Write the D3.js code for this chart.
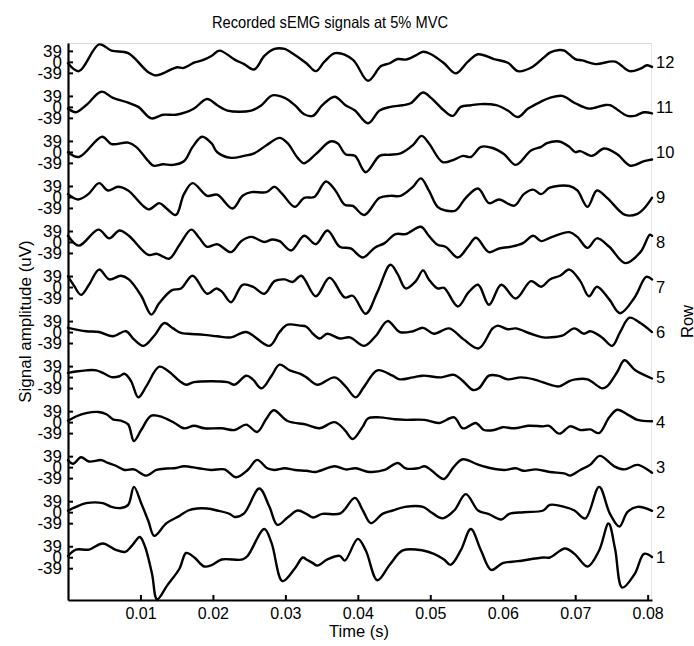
<!DOCTYPE html>
<html>
<head>
<meta charset="utf-8">
<script src="https://cdn.jsdelivr.net/npm/d3@7/dist/d3.min.js"></script>
<style>
  html, body { margin: 0; padding: 0; background: #ffffff; }
  svg { display: block; font-family: "Liberation Sans", Arial, Helvetica, sans-serif; }
</style>
</head>
<body>
<svg id="chart" width="694" height="646"></svg>
<script>
// ---------------- data ----------------
const chartTitle = "Recorded sEMG signals at 5% MVC";
const xLabel = "Time (s)";
const yLabel = "Signal amplitude (uV)";
const rightLabel = "Row";
const rowLabels = ["1","2","3","4","5","6","7","8","9","10","11","12"];
const yTickValues = [-39, 0, 39];          // µV, per row
const xTickValues = [0.01, 0.02, 0.03, 0.04, 0.05, 0.06, 0.07, 0.08]; // s
const rowOffset = 160;                     // µV between stacked rows

// each row: [time (ms), amplitude (µV)]
const row1 = [[0,4],[1.1,27],[2.9,27],[4.8,49],[6.6,26],[7.9,19],[8.8,40],[9.9,72],[10.6,40],[11.6,-60],[12.3,-150],[13.7,-100],[15.4,-40],[16.3,15],[17.4,0],[18.8,-33],[19.9,-27],[21.2,-8],[24.1,-8],[24.8,5],[27.1,100],[28.1,50],[29.6,-85],[31.3,-40],[32.4,-1],[32.9,-8],[33.8,-21],[34.4,-30],[35.8,-8],[37.5,5],[38.2,-12],[40.0,65],[41.1,24],[42.7,-82],[44.4,-27],[46.2,24],[49.0,24],[50.5,12],[51.9,-8],[52.8,-27],[54.2,24],[55.6,100],[57.0,24],[58.4,-45],[60.0,-21],[62.1,-14],[65.6,-1],[66.5,-1],[68.6,31],[69.9,12],[71.7,-33],[73.3,24],[74.6,120],[75.5,30],[76.5,-108],[78.2,-60],[79.5,12],[80.6,1]];
const row2 = [[0,5],[1.1,19],[2.5,32],[4.8,32],[6.0,19],[7.3,15],[8.3,26],[9.1,90],[10.1,32],[11.1,-32],[11.9,-84],[13.6,-39],[15.4,-13],[16.6,6],[17.8,13],[19.2,13],[20.6,6],[22.3,-6],[23.0,-17],[24.3,-4],[26.4,84],[27.8,19],[28.9,-45],[30.3,-19],[31.7,6],[32.9,-6],[33.8,-19],[35.1,-6],[37.6,-4],[39.6,51],[40.7,6],[41.8,-39],[43.4,-6],[44.8,6],[46.5,19],[49.0,19],[50.1,0],[51.7,-22],[53.3,6],[54.9,64],[56.6,6],[58.0,-6],[59.8,-26],[60.9,-6],[62.9,0],[65.6,6],[66.5,26],[68.5,19],[69.9,6],[71.4,-22],[73.3,90],[74.8,-6],[76.1,-51],[77.2,0],[78.6,19],[80.6,5]];
const row3 = [[0,25],[0.7,12],[1.8,35],[2.9,20],[4.6,25],[5.5,15],[6.6,5],[7.8,-10],[9.1,-8],[10.8,-30],[12.2,-10],[13.6,-5],[14.9,-3],[16.0,3],[18.0,-4],[19.8,-10],[21.6,-8],[23.2,-36],[24.8,-10],[26.1,26],[27.5,-4],[28.5,-10],[29.9,-4],[31.3,-10],[32.9,-13],[34.2,-17],[36.8,3],[38.3,-8],[39.7,-4],[41.6,-17],[43.7,-10],[45.5,15],[46.6,-4],[48.3,-4],[49.2,3],[50.1,-10],[51.0,-30],[51.9,-42],[53.3,3],[54.5,28],[56.6,9],[58.4,-4],[60.2,-10],[61.8,-4],[62.9,-13],[64.6,-8],[66.5,-17],[68.6,-23],[69.3,-30],[70.7,-10],[72.1,9],[73.4,40],[75.4,3],[76.8,-8],[78.6,8],[80.6,-20]];
const row4 = [[0,5],[1.1,20],[2.5,32],[4.2,36],[5.3,28],[6.2,10],[7.3,5],[8.3,-8],[9.1,-67],[10.1,-28],[11.5,23],[13.1,17],[14.7,-3],[16.0,-22],[17.4,-13],[18.8,-22],[21.2,-22],[23.0,-28],[24.6,-9],[26.1,-35],[27.4,13],[28.4,42],[30.3,4],[32.9,-9],[34.7,-22],[36.8,0],[38.2,-28],[39.3,-60],[40.7,-15],[41.4,13],[43.0,17],[45.1,10],[46.6,8],[49.2,8],[51.2,-3],[53.3,17],[54.5,-22],[56.3,-3],[57.4,-28],[58.8,-28],[60.0,-18],[61.6,-22],[63.5,-13],[65.6,-15],[66.4,-13],[67.8,-41],[69.3,-15],[70.7,-28],[72.1,-26],[73.3,-39],[74.7,17],[75.8,44],[77.5,23],[78.6,8],[80.6,3]];
const row5 = [[0,15],[1.1,20],[2.5,24],[3.9,24],[4.8,15],[6.0,0],[7.1,3],[7.8,12],[8.7,-14],[9.7,-72],[10.8,-33],[12.6,37],[14.0,18],[15.4,-14],[16.3,-27],[17.4,-18],[22.0,-18],[23.0,-27],[24.6,5],[25.5,-8],[26.7,-40],[28.1,5],[29.2,44],[30.6,24],[32.0,12],[32.9,-1],[34.4,-27],[36.8,-1],[38.3,-33],[39.7,-72],[40.9,-33],[42.7,24],[44.8,5],[45.8,-8],[47.6,-1],[49.0,5],[51.5,-1],[53.3,8],[54.5,-14],[55.9,-46],[56.7,-40],[58.1,5],[59.3,5],[60.7,-8],[62.5,-1],[64.3,-8],[66.5,-27],[67.8,-33],[69.2,-14],[70.0,-8],[71.7,-8],[73.7,-40],[74.4,-33],[75.8,18],[76.8,60],[78.3,24],[80.6,-5]];
const row6 = [[0,15],[2.5,3],[4.3,0],[6.2,-15],[8.0,3],[9.1,-26],[10.4,-49],[11.9,-13],[13.3,32],[14.5,13],[15.6,-3],[16.6,-6],[18.8,-10],[20.6,-15],[22.5,-19],[24.6,0],[27.8,-49],[29.2,0],[30.3,26],[32.0,23],[32.9,19],[33.8,-6],[34.7,-23],[35.8,-6],[37.5,-23],[38.9,-19],[40.9,-49],[42.5,-13],[44.1,39],[45.8,0],[47.6,3],[49.0,15],[50.5,-6],[52.6,13],[54.6,-26],[56.7,-58],[58.6,13],[59.3,23],[60.7,10],[61.8,13],[63.9,-6],[65.6,-19],[66.5,-19],[68.2,-13],[69.9,13],[71.2,-6],[72.1,3],[73.7,-19],[75.1,-49],[76.2,0],[77.5,51],[79.0,32],[80.6,0]];
const row7 = [[0,38],[0.8,6],[1.8,-28],[2.9,8],[4.3,62],[5.7,27],[7.3,40],[8.4,27],[10.1,-31],[11.5,-98],[12.6,-57],[14.3,-12],[15.6,-5],[17.2,40],[19.2,-24],[20.5,-5],[21.3,-18],[22.5,-54],[24.1,8],[25.5,1],[27.1,-24],[28.5,21],[29.9,27],[31.0,18],[32.2,40],[34.2,-33],[36.1,33],[38.2,-37],[39.3,-31],[41.1,-95],[42.7,-18],[44.5,79],[45.5,46],[46.6,-5],[48.0,21],[49.0,59],[49.8,27],[51.0,-5],[51.9,-3],[53.8,-69],[55.3,-18],[56.6,8],[58.1,-63],[59.8,8],[61.8,-41],[63.9,21],[65.3,1],[66.5,27],[67.9,40],[69.2,62],[70.7,21],[71.9,-33],[73.0,1],[74.7,-44],[76.2,-93],[78.2,-37],[79.8,36],[80.6,27]];
const row8 = [[0,22],[1.5,-13],[4.2,44],[5.7,13],[7.1,41],[8.4,22],[11.1,-46],[12.2,-42],[12.9,-49],[14.0,-59],[15.4,-10],[17.0,44],[18.1,15],[19.2,-17],[20.6,-8],[22.5,-36],[23.9,3],[25.3,18],[27.1,0],[28.2,9],[29.2,3],[30.8,-30],[32.6,22],[34.2,-8],[35.8,41],[37.5,-17],[39.0,-23],[40.7,-55],[42.3,-21],[43.7,-4],[45.2,28],[46.6,28],[48.7,54],[49.8,22],[51.0,-10],[52.1,-17],[53.8,-55],[55.2,-17],[56.3,15],[58.1,-36],[59.5,-23],[61.1,-17],[62.8,-4],[64.2,22],[65.3,3],[66.5,15],[69.2,35],[70.3,18],[71.7,-21],[73.0,13],[74.7,-17],[76.9,-75],[79.0,-36],[80.3,26],[80.6,22]];
const row9 = [[0,10],[1.4,-9],[2.8,10],[4.3,49],[5.5,23],[6.9,36],[8.3,23],[11.1,-44],[12.6,-22],[13.6,-41],[14.9,-64],[16.0,10],[17.2,49],[19.2,4],[20.6,8],[22.7,-41],[24.1,4],[25.3,17],[27.4,17],[28.5,36],[29.6,10],[31.3,-35],[32.6,-3],[34.0,0],[35.6,55],[36.9,23],[38.2,-28],[39.3,-32],[40.9,-64],[43.0,-3],[44.5,4],[45.9,4],[47.6,36],[48.7,66],[49.8,23],[51.0,-35],[52.1,-48],[53.5,-48],[54.9,-3],[56.6,30],[58.1,-22],[59.5,-9],[61.6,-31],[62.9,10],[64.2,26],[65.3,10],[66.5,33],[69.2,39],[70.3,23],[71.7,-35],[73.0,23],[74.4,-3],[76.9,-64],[78.6,-60],[79.5,-41],[80.6,-3]];
const row10 = [[0,-1],[1.5,-18],[4.7,54],[6.0,28],[8.3,33],[9.4,18],[11.1,-33],[11.8,-49],[13.1,-44],[14.5,-46],[16.0,-33],[17.2,18],[18.5,54],[19.8,31],[20.6,-1],[22.5,-21],[24.3,-14],[25.7,-5],[27.4,24],[29.2,50],[30.3,31],[31.7,-21],[32.6,-40],[34.2,-8],[36.2,37],[37.2,31],[38.3,-8],[39.6,-14],[41.1,-72],[43.0,-14],[44.4,-10],[45.9,-5],[47.6,24],[48.8,57],[49.8,31],[51.7,-36],[53.3,-27],[54.5,-14],[55.6,-18],[57.0,18],[58.6,14],[60.2,-8],[61.8,-46],[63.9,5],[65.3,18],[66.1,31],[67.8,37],[69.2,18],[70.0,-1],[70.7,3],[72.3,-14],[74.0,12],[75.8,-8],[77.6,-49],[79.5,-33],[80.6,-27]];
const row11 = [[0,-6],[1.1,-19],[2.5,6],[4.6,54],[6.2,32],[8.3,15],[9.7,0],[11.5,-41],[13.1,-28],[14.9,-28],[16.3,-19],[17.4,-6],[19.2,28],[20.6,6],[22.0,-13],[25.3,-13],[26.7,6],[28.2,41],[29.9,32],[31.3,6],[32.6,-26],[33.8,-32],[35.1,6],[36.8,36],[38.3,6],[39.6,-13],[41.4,-58],[43.0,-13],[44.5,0],[46.2,6],[47.3,13],[49.0,51],[50.1,32],[51.9,-13],[53.1,-32],[54.2,0],[55.6,6],[57.0,10],[59.1,6],[60.7,-13],[62.1,-36],[63.5,-6],[65.3,19],[66.5,32],[68.2,39],[70.0,13],[71.9,-6],[74.0,6],[74.8,6],[77.2,-32],[78.2,-32],[79.5,-19],[80.6,-23]];
const row12 = [[0,-5],[1.5,-33],[4.3,62],[6.0,40],[8.3,31],[11.1,-37],[12.2,-48],[14.5,-24],[15.1,-19],[15.9,-22],[16.8,-11],[17.4,-3],[18.5,5],[19.8,21],[20.9,40],[23.0,8],[24.3,-8],[25.7,-27],[27.1,21],[28.5,46],[29.9,46],[30.8,33],[32.9,-5],[34.2,-33],[35.4,1],[36.9,31],[39.3,8],[41.4,-67],[43.2,-15],[44.4,-5],[45.5,10],[46.6,8],[48.0,23],[49.0,36],[50.1,27],[51.9,-5],[53.5,-41],[55.2,1],[56.6,27],[58.8,10],[60.7,-3],[62.1,-33],[63.9,-21],[65.6,14],[66.5,33],[67.8,42],[68.5,40],[70.0,10],[71.0,5],[72.8,-8],[75.5,1],[77.5,-33],[79.0,-24],[79.9,-12],[80.6,-18]];

const rows = [row1,row2,row3,row4,row5,row6,row7,row8,row9,row10,row11,row12];

// ---------------- drawing ----------------
const svg = d3.select("#chart");
svg.append("rect").attr("width", 694).attr("height", 646).attr("fill", "#ffffff");

const x = d3.scaleLinear().domain([0, 0.0806]).range([68, 652]);
const y = d3.scaleLinear().domain([-152, 11 * rowOffset + 67]).range([600, 43]);

// light box (top and right)
const [x0, x1] = x.range();
const [yb, yt] = y.range();
svg.append("line").attr("x1", x0).attr("x2", x1).attr("y1", yt + 0.5).attr("y2", yt + 0.5)
  .attr("stroke", "#d9d9d9").attr("stroke-width", 1);
svg.append("line").attr("x1", x1 - 0.5).attr("x2", x1 - 0.5).attr("y1", yt).attr("y2", yb)
  .attr("stroke", "#e6e6e6").attr("stroke-width", 1);

// signal lines
const line = d3.line().curve(d3.curveCatmullRom.alpha(0.5));
rows.forEach((r, i) => {
  svg.append("path")
    .attr("d", line.x(d => x(d[0] / 1000)).y(d => y(d[1] + i * rowOffset))(r))
    .attr("fill", "none")
    .attr("stroke", "#000")
    .attr("stroke-width", 2.4)
    .attr("stroke-linejoin", "round")
    .attr("stroke-linecap", "round");
});

const fontFam = "Liberation Sans, Arial, sans-serif";

// left axis with per-row ticks
const yTicks = rows.flatMap((_, i) => yTickValues.map(v => v + i * rowOffset));
const yAxis = d3.axisLeft(y)
  .tickValues(yTicks)
  .tickSizeInner(-5).tickSizeOuter(0).tickPadding(6)
  .tickFormat(d => String(Math.round(d - Math.round(d / rowOffset) * rowOffset)));
const gy = svg.append("g").attr("transform", `translate(${x0},0)`).call(yAxis);
gy.select(".domain").attr("stroke-width", 2.2);
gy.selectAll(".tick line").attr("stroke-width", 2);
gy.selectAll(".tick text").attr("font-size", 17).attr("fill", "#000").attr("font-family", fontFam);

// bottom axis
const xAxis = d3.axisBottom(x)
  .tickValues(xTickValues)
  .tickSizeInner(-5).tickSizeOuter(0).tickPadding(7.5)
  .tickFormat(d3.format(".2f"));
const gx = svg.append("g").attr("transform", `translate(0,${yb})`).call(xAxis);
gx.select(".domain").attr("stroke-width", 2.2);
gx.selectAll(".tick line").attr("stroke-width", 2);
gx.selectAll(".tick text").attr("font-size", 16).attr("fill", "#000").attr("font-family", fontFam);

// right row labels
const rAxis = d3.axisRight(y)
  .tickValues(rows.map((_, i) => i * rowOffset))
  .tickSize(0).tickPadding(4)
  .tickFormat((d, i) => rowLabels[i]);
const gr = svg.append("g").attr("transform", `translate(${x1},0)`).call(rAxis);
gr.select(".domain").remove();
gr.selectAll(".tick text").attr("font-size", 16.5).attr("fill", "#000").attr("font-family", fontFam);

// titles
svg.append("text").attr("x", 330).attr("y", 28).attr("text-anchor", "middle")
  .attr("font-size", 16.5).attr("textLength", 236).attr("lengthAdjust", "spacingAndGlyphs")
  .attr("fill", "#000").text(chartTitle);
svg.append("text").attr("x", (x0 + x1) / 2 - 1).attr("y", 637).attr("text-anchor", "middle")
  .attr("font-size", 16.5).attr("fill", "#000").text(xLabel);
svg.append("text").attr("transform", `translate(31,${(yt + yb) / 2})rotate(-90)`)
  .attr("text-anchor", "middle").attr("font-size", 17).attr("fill", "#000").text(yLabel);
svg.append("text").attr("transform", `translate(693,${(yt + yb) / 2})rotate(-90)`)
  .attr("text-anchor", "middle").attr("font-size", 16.5).attr("fill", "#000").text(rightLabel);
</script>
</body>
</html>
